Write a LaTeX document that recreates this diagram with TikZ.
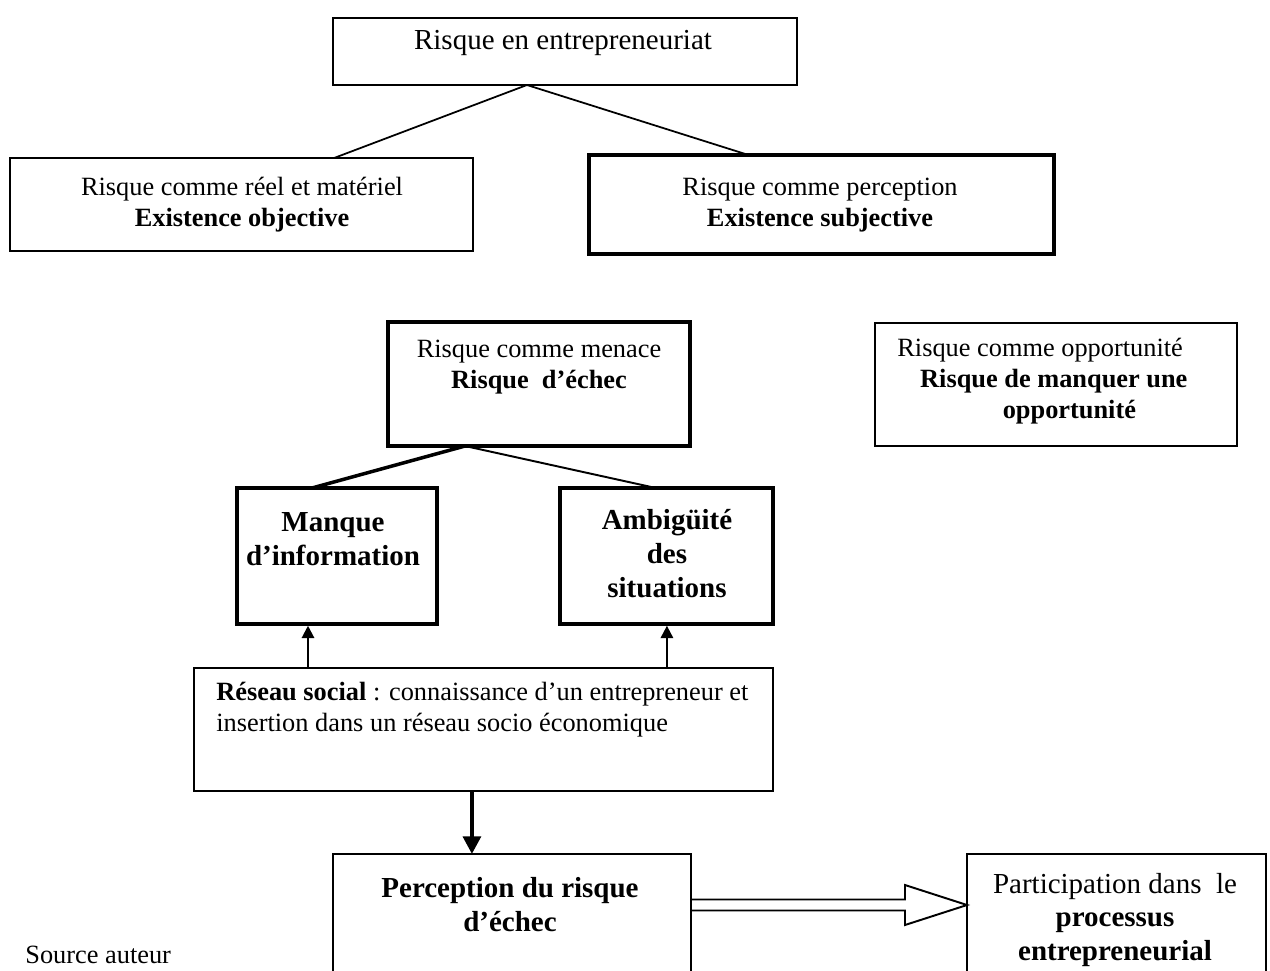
\documentclass[tikz,border=0pt]{standalone}
\usepackage{fontspec}
\setmainfont{Liberation Serif}
\usetikzlibrary{arrows.meta,calc,fit}

\begin{document}
\begin{tikzpicture}[x=0.02cm,y=-0.02cm,
  box/.style={draw, inner sep=0pt, outer sep=0pt, line width=#1},
  box/.default=0.8pt,
  txt/.style={inner sep=0pt, align=center, font=\fontsize{15}{17.5}\selectfont},
  bigtxt/.style={inner sep=0pt, align=center, font=\fontsize{16.5}{19.3}\selectfont},
  bigbold/.style={inner sep=0pt, align=center, font=\fontsize{16.5}{19.3}\selectfont\bfseries},
  link/.style={line width=#1},
  uparrow/.style={line width=1.2pt, -{Triangle[length=7pt,width=7pt]}, shorten >=1pt},
  downarrow/.style={line width=2.3pt, -{Triangle[length=10pt,width=10pt]}}
]
\useasboundingbox (0,0) rectangle (1270,970);
\clip (0,0) rectangle (1270,970);

% --- top level ---
\node[box=1.5pt, fit={(333,18) (797,85)}] (b1) {};
\node[bigtxt] (t1) at (563,43) {Risque en entrepreneuriat};

\node[box=0.8pt, fit={(10,158) (473,251)}] (L) {};
\node[txt] (tL) at (242,205) {Risque comme réel et matériel\\ \textbf{Existence objective}};

\node[box=2.2pt, fit={(589,155) (1054,254)}] (R) {};
\node[txt] (tR) at (820,205) {Risque comme perception\\ \textbf{Existence subjective}};

\coordinate (j1) at ($(b1.south west)!0.418!(b1.south east)$);
\draw[link=1pt] (j1) -- ($(L.north west)!0.70!(L.north east)$);
\draw[link=1pt] (j1) -- ($(R.north west)!0.343!(R.north east)$);

% --- menace / opportunite ---
\node[box=2.5pt, fit={(388,322) (690,446)}] (M) {};
\node[txt] (tM) at (539,367) {Risque comme menace\\ \textbf{Risque~~d’échec}};

\node[box=1pt, fit={(875,323) (1237,446)}] (O) {};
\node[txt, align=left, anchor=west] (tO) at (897,381) {Risque comme opportunité\\
  \hspace*{13pt}\textbf{Risque de manquer une}\\
  \hspace*{60pt}\textbf{opportunité}};

% --- causes ---
\node[box=2.3pt, fit={(237,488) (437,624)}] (A) {};
\node[bigbold] (tA) at (333,539) {Manque\\ d’information};

\node[box=2.3pt, fit={(560,488) (773,624)}] (B) {};
\node[bigbold] (tB) at (667,554) {Ambigüité\\ des\\ situations};

\coordinate (j2) at ($(M.south west)!0.255!(M.south east)$);
\draw[link=2pt] (j2) -- ($(A.north west)!0.375!(A.north east)$);
\draw[link=1.1pt] (j2) -- ($(B.north west)!0.45!(B.north east)$);

% --- social network ---
\node[box=1pt, fit={(194,668) (773,791)}] (S) {};
\node[txt, align=left, anchor=west] (tS) at (216,710) {\textbf{Réseau social} : connaissance d’un entrepreneur et\\ insertion dans un réseau socio économique};

\coordinate (ua) at ($(A.south west)!0.355!(A.south east)$);
\coordinate (ub) at ($(B.south west)!0.502!(B.south east)$);
\draw[uparrow] (ua |- S.north) -- (ua |- A.south);
\draw[uparrow] (ub |- S.north) -- (ub |- B.south);

% --- perception and participation ---
\node[box=1pt, fit={(333,854) (691,1010)}] (P) {};
\node[bigbold] (tP) at (510,905) {Perception du risque\\ d’échec};

\node[box=1.2pt, fit={(967,854) (1266,1010)}] (Q) {};
\node[bigtxt] (tQ) at (1115,920) {Participation dans~~le\\ \textbf{processus}\\ \textbf{entrepreneurial}};

\coordinate (ud) at ($(S.south west)!0.48!(S.south east)$);
\draw[downarrow] (ud) -- (ud |- P.north);

% hollow double-shafted arrow
\coordinate (hs) at ($(P.north east)+(0,51)$);
\coordinate (ht) at ($(Q.north west)+(0,51)$);
\draw[line width=1.1pt, line join=miter]
  ($(hs)+(0,-5.5)$) -- ($(ht)+(-62,-5.5)$) -- ($(ht)+(-62,-20)$)
  -- (ht)
  -- ($(ht)+(-62,20)$) -- ($(ht)+(-62,5.5)$)
  -- ($(hs)+(0,5.5)$);

\node[txt, anchor=west] (src) at (25,955) {Source auteur};
\end{tikzpicture}
\end{document}
